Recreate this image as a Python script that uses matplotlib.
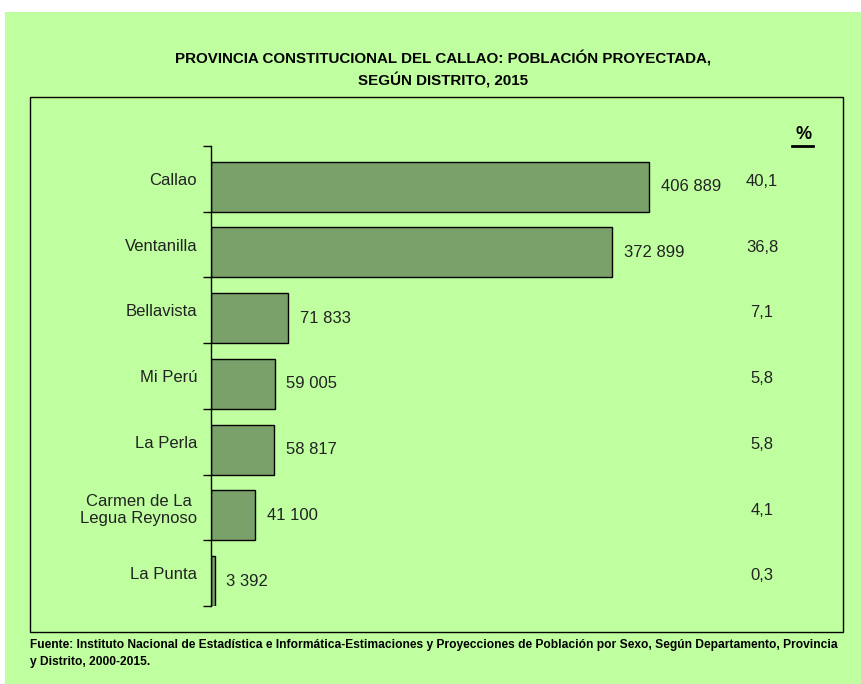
import matplotlib.pyplot as plt
from matplotlib.patches import Rectangle

# Data
districts = ["Callao", "Ventanilla", "Bellavista", "Mi Perú", "La Perla",
             "Carmen de La\nLegua Reynoso", "La Punta"]
population = [406889, 372899, 71833, 59005, 58817, 41100, 3392]
value_labels = ["406 889", "372 899", "71 833", "59 005", "58 817", "41 100", "3 392"]
percent_labels = ["40,1", "36,8", "7,1", "5,8", "5,8", "4,1", "0,3"]

green_bg = "#bfffa0"
bar_color = "#7aa16a"
text_color = "#222222"
plt.rcParams["font.family"] = ["Liberation Sans", "DejaVu Sans"]

fig = plt.figure(figsize=(8.62, 6.84), dpi=100)
fig.patch.set_facecolor("white")
fig.patches.append(Rectangle((5 / 862, -0.05), 1, 1.05 - 12 / 684, transform=fig.transFigure,
                             facecolor=green_bg, edgecolor="none", zorder=-2))
fig.patches.append(Rectangle((30 / 862, 1 - 632 / 684), 813 / 862, 535 / 684,
                             transform=fig.transFigure, facecolor="none",
                             edgecolor="black", lw=1.0, zorder=-1))

ax = fig.add_axes([211 / 862, 1 - 606 / 684, 632 / 862, 460 / 684])
ax.set_facecolor("none")
pos = list(range(len(districts)))
bar_h = 0.76
# bars sit on the lower boundary tick of each slot
ax.barh([p + 0.5 - bar_h / 2 for p in pos], population, height=bar_h,
        color=bar_color, edgecolor="black", linewidth=1.0)
ax.set_ylim(len(districts) - 0.5, -0.5)
ax.set_xlim(0, 406889 * 632 / 438)

for s in ["top", "right", "bottom"]:
    ax.spines[s].set_visible(False)
ax.spines["left"].set_linewidth(1.0)
ax.set_xticks([])
ax.set_yticks([p - 0.5 for p in pos] + [len(districts) - 0.5])
ax.set_yticklabels([])
ax.tick_params(axis="y", which="major", length=6, width=1.0, direction="out")
ax.set_yticks(pos, minor=True)
ax.set_yticklabels(districts, minor=True, fontsize=12, color=text_color)
ax.tick_params(axis="y", which="minor", length=0, pad=10)
for lab in ax.get_yticklabels(minor=True):
    lab.set_multialignment("center")

for p, v, t in zip(pos, population, value_labels):
    ax.text(v + 11000, p + 0.12, t, va="center", ha="left", fontsize=12, color=text_color)

ytr = ax.get_yaxis_transform()
for p, t in zip(pos, percent_labels):
    ax.text(0.872, p + 0.04, t, transform=ytr, va="center", ha="center",
            fontsize=12, color=text_color)
ax.text(0.937, 1.024, "%", transform=ax.transAxes, ha="center", va="center",
        fontsize=13, fontweight="bold")
ax.plot([0.920, 0.953], [1.0, 1.0], transform=ax.transAxes, color="black",
        lw=2.0, clip_on=False)

fig.text(443 / 862, 1 - 58 / 684, "PROVINCIA CONSTITUCIONAL DEL CALLAO: POBLACIÓN PROYECTADA,",
         ha="center", va="center", fontsize=10.9, fontweight="bold")
fig.text(443 / 862, 1 - 80 / 684, "SEGÚN DISTRITO, 2015",
         ha="center", va="center", fontsize=10.9, fontweight="bold")
fig.text(30 / 862, 1 - 645 / 684,
         "Fuente: Instituto Nacional de Estadística e Informática-Estimaciones y Proyecciones "
         "de Población por Sexo, Según Departamento, Provincia",
         ha="left", va="center", fontsize=8.65, fontweight="bold")
fig.text(30 / 862, 1 - 662 / 684, "y Distrito, 2000-2015.",
         ha="left", va="center", fontsize=8.65, fontweight="bold")

plt.savefig("out.png", dpi=100)
